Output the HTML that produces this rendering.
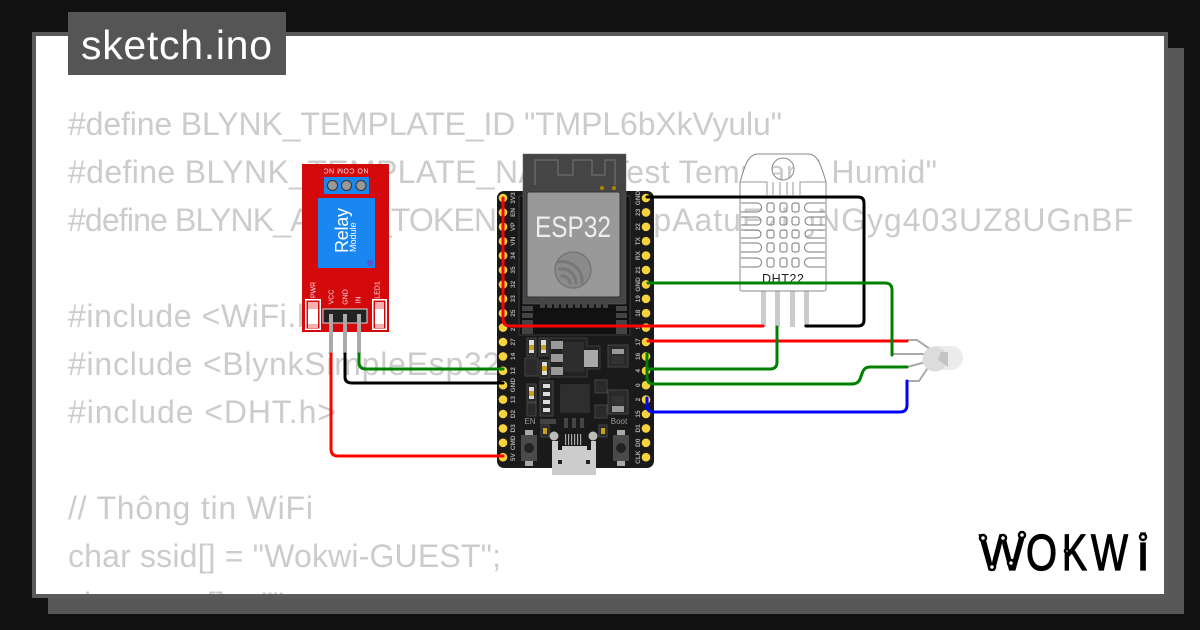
<!DOCTYPE html>
<html><head><meta charset="utf-8"><style>
html,body{margin:0;padding:0;background:#111;width:1200px;height:630px;overflow:hidden}
svg{display:block}
.c{font-family:"Liberation Sans",sans-serif;font-size:32px;fill:#ccc}
.p{font-family:"Liberation Sans",sans-serif;font-size:6.5px;font-weight:bold;fill:#aaa;text-anchor:middle}
.r{font-family:"Liberation Sans",sans-serif;font-size:7px;fill:#fde;text-anchor:middle}
.w{fill:none;stroke-width:3;stroke-linecap:round;stroke-linejoin:round}
.l{font-family:"Liberation Sans",sans-serif;font-size:51px;fill:#000;stroke:#000;stroke-width:1.200}
</style></head><body>
<svg width="1200" height="630" viewBox="0 0 1200 630" xmlns="http://www.w3.org/2000/svg">
<defs>
<clipPath id="cl"><rect x="36" y="36" width="1128" height="558"/></clipPath>
<mask id="dm" maskUnits="userSpaceOnUse" x="730" y="145" width="110" height="160">
<rect x="730" y="145" width="110" height="160" fill="#fff"/>
<g fill="#000">
<circle cx="783" cy="169" r="11"/>
<path d="M741 203h16a4.500 4.500 0 0 1 0 9h-16zM741 217h16a4 4 0 0 1 0 8h-16zM741 230h16a4 4 0 0 1 0 8h-16zM741 243h16a4.500 4.500 0 0 1 0 9h-16zM741 258h16a4.500 4.500 0 0 1 0 9h-16z"/>
<path d="M825 203h-16a4.500 4.500 0 0 0 0 9h16zM825 217h-16a4 4 0 0 0 0 8h16zM825 230h-16a4 4 0 0 0 0 8h16zM825 243h-16a4.500 4.500 0 0 0 0 9h16zM825 258h-16a4.500 4.500 0 0 0 0 9h16z"/>
<rect x="767" y="203" width="7" height="9" rx="2"/><rect x="780" y="203" width="7" height="9" rx="2"/><rect x="792" y="203" width="7" height="9" rx="2"/>
<rect x="767" y="217" width="7" height="8" rx="2"/><rect x="780" y="217" width="7" height="8" rx="2"/><rect x="792" y="217" width="7" height="8" rx="2"/>
<rect x="767" y="230" width="7" height="8" rx="2"/><rect x="780" y="230" width="7" height="8" rx="2"/><rect x="792" y="230" width="7" height="8" rx="2"/>
<rect x="767" y="243" width="7" height="9" rx="2"/><rect x="780" y="243" width="7" height="9" rx="2"/><rect x="792" y="243" width="7" height="9" rx="2"/>
<rect x="767" y="258" width="7" height="9" rx="2"/><rect x="780" y="258" width="7" height="9" rx="2"/><rect x="792" y="258" width="7" height="9" rx="2"/>
</g></mask>
</defs>
<rect width="1200" height="630" fill="#111"/>
<rect x="48" y="48" width="1136" height="566" fill="#585858"/>
<rect x="32" y="32" width="1136" height="566" fill="#5a5a5a"/>
<rect x="36" y="36" width="1128" height="558" fill="#fff"/>
<g clip-path="url(#cl)">
<text class="c" x="68" y="135" textLength="714">#define BLYNK_TEMPLATE_ID "TMPL6bXkVyulu"</text>
<text class="c" x="68" y="183" textLength="869">#define BLYNK_TEMPLATE_NAME "Test Temp and Humid"</text>
<text class="c" x="68" y="231" textLength="429">#define BLYNK_AUTH_TOKEN</text>
<text class="c" x="508" y="231" textLength="625">"wSqrbkTpAatuEzkgNGyg403UZ8UGnBF</text>
<text class="c" x="68" y="327" textLength="266">#include &lt;WiFi.h&gt;</text>
<text class="c" x="68" y="375" textLength="480">#include &lt;BlynkSimpleEsp32.h&gt;</text>
<text class="c" x="68" y="423" textLength="268">#include &lt;DHT.h&gt;</text>
<text class="c" x="68" y="519" textLength="245">// Thông tin WiFi</text>
<text class="c" x="68" y="567" textLength="433">char ssid[] = "Wokwi-GUEST";</text>
<text class="c" x="68" y="615" textLength="225">char pass[] = "";</text>
</g>
<rect x="68" y="12" width="218" height="63" fill="#555"/>
<text x="81" y="59" font-family="Liberation Sans,sans-serif" font-size="41" fill="#fff" textLength="191">sketch.ino</text>

<!-- Relay -->
<rect x="302" y="164" width="87" height="168" fill="#d40a0a"/>
<rect x="324" y="177" width="45" height="17" fill="#1a87f0"/>
<circle cx="332.500" cy="185.500" r="5" fill="#999" stroke="#333"/><circle cx="346.500" cy="185.500" r="5" fill="#999" stroke="#333"/><circle cx="361" cy="185.500" r="5" fill="#999" stroke="#333"/>
<text class="r" transform="translate(346,168.500) rotate(180)" textLength="45">NO COM NC</text>
<rect x="318" y="198" width="57" height="70" fill="#1a87f0"/>
<circle cx="370" cy="263" r="3" fill="#5555cc"/>
<text transform="translate(348,253) rotate(-90)" font-family="Liberation Sans,sans-serif" font-size="18" fill="#fff" textLength="45">Relay</text>
<text transform="translate(356,252) rotate(-90)" font-family="Liberation Sans,sans-serif" font-size="9" fill="#fff">Module</text>
<text class="r" transform="translate(315.500,290) rotate(-90)">PWR</text>
<text class="r" transform="translate(333.500,297) rotate(-90)">VCC</text>
<text class="r" transform="translate(347.500,297) rotate(-90)">GND</text>
<text class="r" transform="translate(360.500,300) rotate(-90)">IN</text>
<text class="r" transform="translate(379.500,290) rotate(-90)">LED1</text>
<g fill="#fff"><rect x="305" y="299" width="16" height="1.500"/><rect x="305" y="328.500" width="16" height="1.500"/><rect x="305" y="299" width="1.500" height="31"/><rect x="319.500" y="299" width="1.500" height="31"/><rect x="308" y="309" width="10" height="15"/>
<rect x="372" y="299" width="15" height="1.500"/><rect x="372" y="328.500" width="15" height="1.500"/><rect x="372" y="299" width="1.500" height="31"/><rect x="385.500" y="299" width="1.500" height="31"/><rect x="375" y="309" width="9" height="15"/></g>
<g fill="#f4b0b0"><rect x="308" y="302" width="10" height="7"/><rect x="308" y="324" width="10" height="4"/><rect x="375" y="302" width="9" height="7"/><rect x="375" y="324" width="9" height="4"/></g>
<rect x="323" y="309" width="44" height="14" fill="#222" stroke="#ddd" stroke-width="1"/>
<g fill="#aaa"><rect x="329" y="314" width="4" height="40"/><rect x="343" y="314" width="4" height="40"/><rect x="357" y="314" width="4" height="40"/></g>

<!-- ESP32 board -->
<rect x="497" y="191" width="157" height="277" rx="7" fill="#1a1a1a"/>
<rect x="519" y="196" width="111" height="139" fill="#111" stroke="#3a3a3a"/>
<rect x="523" y="154" width="103" height="150" fill="#454545" stroke="#666" stroke-width="0.500"/>
<path d="M535 185V160H558V175H573V160H592V175H605V160H615V185" fill="none" stroke="#666" stroke-width="1.500"/>
<circle cx="602" cy="188" r="2" fill="#a88a00"/><circle cx="614" cy="188" r="2" fill="#a88a00"/>
<rect x="527" y="192" width="93" height="105" rx="2" fill="#999" stroke="#333"/>
<text x="535" y="237" font-family="Liberation Sans,sans-serif" font-size="30" fill="#eee" textLength="76" lengthAdjust="spacingAndGlyphs">ESP32</text>
<g fill="none" stroke="#777" stroke-linecap="round"><circle cx="573" cy="270" r="18" stroke-width="1.500" fill="#8a8a8a"/><path d="M558 262A20 20 0 0 1 582 283" stroke-width="3"/><path d="M560 269A14 14 0 0 1 576 283" stroke-width="3"/><path d="M562 276A8 8 0 0 1 570 283" stroke-width="3"/></g>
<g fill="#444"><rect x="540" y="303" width="5" height="5"/><rect x="547" y="303" width="5" height="5"/><rect x="554" y="303" width="5" height="5"/><rect x="561" y="303" width="5" height="5"/><rect x="568" y="303" width="5" height="5"/><rect x="575" y="303" width="5" height="5"/><rect x="582" y="303" width="5" height="5"/><rect x="589" y="303" width="5" height="5"/><rect x="596" y="303" width="5" height="5"/><rect x="603" y="303" width="5" height="5"/>
<rect x="522" y="306" width="11" height="5"/><rect x="522" y="313" width="11" height="5"/><rect x="522" y="320" width="11" height="5"/><rect x="522" y="327" width="11" height="7"/>
<rect x="616" y="306" width="11" height="5"/><rect x="616" y="313" width="11" height="5"/><rect x="616" y="320" width="11" height="5"/><rect x="616" y="327" width="11" height="7"/></g>
<!-- pins -->
<g fill="#f8d33c">
<circle cx="503" cy="198" r="4.300"/><circle cx="503" cy="212.400" r="4.300"/><circle cx="503" cy="226.800" r="4.300"/><circle cx="503" cy="241.200" r="4.300"/><circle cx="503" cy="255.600" r="4.300"/><circle cx="503" cy="270" r="4.300"/><circle cx="503" cy="284.400" r="4.300"/><circle cx="503" cy="298.800" r="4.300"/><circle cx="503" cy="313.200" r="4.300"/><circle cx="503" cy="327.600" r="4.300"/><circle cx="503" cy="342" r="4.300"/><circle cx="503" cy="356.400" r="4.300"/><circle cx="503" cy="370.800" r="4.300"/><circle cx="503" cy="385.200" r="4.300"/><circle cx="503" cy="399.600" r="4.300"/><circle cx="503" cy="414" r="4.300"/><circle cx="503" cy="428.400" r="4.300"/><circle cx="503" cy="442.800" r="4.300"/><circle cx="503" cy="457.200" r="4.300"/>
<circle cx="646" cy="198" r="4.300"/><circle cx="646" cy="212.400" r="4.300"/><circle cx="646" cy="226.800" r="4.300"/><circle cx="646" cy="241.200" r="4.300"/><circle cx="646" cy="255.600" r="4.300"/><circle cx="646" cy="270" r="4.300"/><circle cx="646" cy="284.400" r="4.300"/><circle cx="646" cy="298.800" r="4.300"/><circle cx="646" cy="313.200" r="4.300"/><circle cx="646" cy="327.600" r="4.300"/><circle cx="646" cy="342" r="4.300"/><circle cx="646" cy="356.400" r="4.300"/><circle cx="646" cy="370.800" r="4.300"/><circle cx="646" cy="385.200" r="4.300"/><circle cx="646" cy="399.600" r="4.300"/><circle cx="646" cy="414" r="4.300"/><circle cx="646" cy="428.400" r="4.300"/><circle cx="646" cy="442.800" r="4.300"/><circle cx="646" cy="457.200" r="4.300"/>
</g>
<g>
<text class="p" transform="translate(515,198) rotate(-90)">3V3</text><text class="p" transform="translate(515,212.400) rotate(-90)">EN</text><text class="p" transform="translate(515,226.800) rotate(-90)">VP</text><text class="p" transform="translate(515,241.200) rotate(-90)">VN</text><text class="p" transform="translate(515,255.600) rotate(-90)">34</text><text class="p" transform="translate(515,270) rotate(-90)">35</text><text class="p" transform="translate(515,284.400) rotate(-90)">32</text><text class="p" transform="translate(515,298.800) rotate(-90)">33</text><text class="p" transform="translate(515,313.200) rotate(-90)">25</text><text class="p" transform="translate(515,327.600) rotate(-90)">26</text><text class="p" transform="translate(515,342) rotate(-90)">27</text><text class="p" transform="translate(515,356.400) rotate(-90)">14</text><text class="p" transform="translate(515,370.800) rotate(-90)">12</text><text class="p" transform="translate(515,385.200) rotate(-90)">GND</text><text class="p" transform="translate(515,399.600) rotate(-90)">13</text><text class="p" transform="translate(515,414) rotate(-90)">D2</text><text class="p" transform="translate(515,428.400) rotate(-90)">D3</text><text class="p" transform="translate(515,442.800) rotate(-90)">CMD</text><text class="p" transform="translate(515,457.200) rotate(-90)">5V</text>
<text class="p" transform="translate(640,198) rotate(-90)">GND</text><text class="p" transform="translate(640,212.400) rotate(-90)">23</text><text class="p" transform="translate(640,226.800) rotate(-90)">22</text><text class="p" transform="translate(640,241.200) rotate(-90)">TX</text><text class="p" transform="translate(640,255.600) rotate(-90)">RX</text><text class="p" transform="translate(640,270) rotate(-90)">21</text><text class="p" transform="translate(640,284.400) rotate(-90)">GND</text><text class="p" transform="translate(640,298.800) rotate(-90)">19</text><text class="p" transform="translate(640,313.200) rotate(-90)">18</text><text class="p" transform="translate(640,327.600) rotate(-90)">5</text><text class="p" transform="translate(640,342) rotate(-90)">17</text><text class="p" transform="translate(640,356.400) rotate(-90)">16</text><text class="p" transform="translate(640,370.800) rotate(-90)">4</text><text class="p" transform="translate(640,385.200) rotate(-90)">0</text><text class="p" transform="translate(640,399.600) rotate(-90)">2</text><text class="p" transform="translate(640,414) rotate(-90)">15</text><text class="p" transform="translate(640,428.400) rotate(-90)">D1</text><text class="p" transform="translate(640,442.800) rotate(-90)">D0</text><text class="p" transform="translate(640,457.200) rotate(-90)">CLK</text>
</g>
<!-- regulator + small parts -->
<path d="M550 338H587V346H600V369H587V377H550Z" fill="#222" stroke="#3c3c3c"/>
<rect x="562" y="342" width="22" height="30" fill="#2d2d2d"/>
<rect x="551" y="341" width="12" height="8" fill="#999"/><rect x="551" y="354" width="12" height="8" fill="#999"/><rect x="551" y="367" width="12" height="8" fill="#999"/>
<rect x="584" y="350" width="14" height="17" fill="#aaa"/>
<g fill="#2a2a2a" stroke="#444"><rect x="527" y="338" width="9" height="18"/><rect x="539" y="338" width="9" height="18"/><rect x="525" y="358" width="13" height="18"/><rect x="540" y="360" width="9" height="18"/><rect x="527" y="384" width="9" height="18"/><rect x="527" y="403" width="9" height="13"/><rect x="540" y="381" width="13" height="35"/><rect x="608" y="345" width="20" height="22"/><rect x="595" y="380" width="12" height="13"/><rect x="595" y="405" width="12" height="13"/><rect x="608" y="390" width="20" height="24"/><rect x="541" y="425" width="8" height="12"/><rect x="599" y="425" width="8" height="12"/></g>
<g fill="#ddd"><rect x="529" y="340" width="5" height="13"/><rect x="541" y="340" width="5" height="13"/><rect x="542" y="362" width="5" height="13"/><rect x="529" y="387" width="5" height="12"/><rect x="543" y="384" width="7" height="4"/><rect x="543" y="392" width="7" height="4"/><rect x="543" y="400" width="7" height="4"/><rect x="543" y="408" width="7" height="4"/></g>
<g fill="#c9a020"><rect x="529" y="345" width="5" height="5"/><rect x="541" y="345" width="5" height="5"/><rect x="542" y="366" width="5" height="5"/><rect x="529" y="391" width="5" height="5"/><rect x="543" y="428" width="4" height="6"/><rect x="601" y="428" width="4" height="6"/></g>
<rect x="612" y="349" width="12" height="5" fill="#999"/><rect x="612" y="356" width="12" height="8" fill="#333"/>
<rect x="612" y="406" width="12" height="6" fill="#999"/><rect x="612" y="396" width="12" height="9" fill="#333"/>
<rect x="560" y="384" width="30" height="29" rx="2" fill="#2e2e2e"/>
<rect x="540" y="419" width="16" height="5" fill="#444"/>
<g fill="#444"><rect x="564" y="418" width="4" height="10"/><rect x="572" y="418" width="4" height="10"/><rect x="580" y="418" width="4" height="10"/></g>
<g fill="#aaa"><rect x="565" y="434" width="1.200" height="11"/><rect x="568" y="434" width="1.200" height="11"/><rect x="571" y="434" width="1.200" height="11"/><rect x="574" y="434" width="1.200" height="11"/><rect x="577" y="434" width="1.200" height="11"/><rect x="580" y="434" width="1.200" height="11"/></g>
<path d="M552 475V441H558V450H562V446H587V450H591V441H596V475Z" fill="#ccc"/>
<circle cx="554" cy="436" r="4.500" fill="#bbb"/><circle cx="593" cy="436" r="4.500" fill="#bbb"/>
<rect x="558" y="460" width="4" height="4" fill="#222"/><rect x="586" y="460" width="4" height="4" fill="#222"/>
<text x="530" y="424" font-family="Liberation Sans,sans-serif" font-size="8" fill="#999" text-anchor="middle">EN</text>
<text x="619" y="424" font-family="Liberation Sans,sans-serif" font-size="8" fill="#999" text-anchor="middle">Boot</text>
<rect x="525" y="430" width="8" height="6" fill="#aaa"/><rect x="525" y="460" width="8" height="6" fill="#aaa"/><rect x="521" y="435" width="16" height="26" fill="#4a4a4a"/><circle cx="529" cy="448" r="5" fill="#222"/>
<rect x="617" y="430" width="8" height="6" fill="#aaa"/><rect x="617" y="460" width="8" height="6" fill="#aaa"/><rect x="613" y="435" width="16" height="26" fill="#4a4a4a"/><circle cx="621" cy="448" r="5" fill="#222"/>

<!-- DHT22 -->
<g fill="#ccc"><rect x="761" y="291" width="5" height="36"/><rect x="775" y="291" width="5" height="36"/><rect x="790" y="291" width="5" height="36"/><rect x="804" y="291" width="5" height="36"/></g>
<path d="M740 182C745 165 748 155 757 154H809C818 155 821 165 826 182V289a2 2 0 0 1-2 2H742a2 2 0 0 1-2-2Z" fill="#fff" mask="url(#dm)"/>
<path d="M740 182C745 165 748 155 757 154H809C818 155 821 165 826 182V289a2 2 0 0 1-2 2H742a2 2 0 0 1-2-2Z" fill="none" stroke="#888" stroke-width="1"/>
<circle cx="783" cy="169" r="11" fill="none" stroke="#888"/>
<path d="M740 182H767V195M773 182V195M780 182V195M787 182V195M793 182V195M800 195V182H826" fill="none" stroke="#999" stroke-width="1"/>
<g fill="none" stroke="#777" stroke-width="1">
<path d="M741 203h16a4.500 4.500 0 0 1 0 9h-16M741 217h16a4 4 0 0 1 0 8h-16M741 230h16a4 4 0 0 1 0 8h-16M741 243h16a4.500 4.500 0 0 1 0 9h-16M741 258h16a4.500 4.500 0 0 1 0 9h-16"/>
<path d="M825 203h-16a4.500 4.500 0 0 0 0 9h16M825 217h-16a4 4 0 0 0 0 8h16M825 230h-16a4 4 0 0 0 0 8h16M825 243h-16a4.500 4.500 0 0 0 0 9h16M825 258h-16a4.500 4.500 0 0 0 0 9h16"/>
<rect x="767" y="203" width="7" height="9" rx="2"/><rect x="780" y="203" width="7" height="9" rx="2"/><rect x="792" y="203" width="7" height="9" rx="2"/>
<rect x="767" y="217" width="7" height="8" rx="2"/><rect x="780" y="217" width="7" height="8" rx="2"/><rect x="792" y="217" width="7" height="8" rx="2"/>
<rect x="767" y="230" width="7" height="8" rx="2"/><rect x="780" y="230" width="7" height="8" rx="2"/><rect x="792" y="230" width="7" height="8" rx="2"/>
<rect x="767" y="243" width="7" height="9" rx="2"/><rect x="780" y="243" width="7" height="9" rx="2"/><rect x="792" y="243" width="7" height="9" rx="2"/>
<rect x="767" y="258" width="7" height="9" rx="2"/><rect x="780" y="258" width="7" height="9" rx="2"/><rect x="792" y="258" width="7" height="9" rx="2"/>
</g>
<text x="762" y="283" font-family="Liberation Sans,sans-serif" font-size="12.500" fill="#222" textLength="42">DHT22</text>

<!-- LED -->
<g fill="none" stroke="#aaa" stroke-width="2"><path d="M907 340H917L930 349"/><path d="M892 354H926"/><path d="M907 367L926 362"/><path d="M907 381H919L929 366"/></g>
<rect x="925" y="346" width="38" height="24" rx="12" fill="#ececec"/>
<circle cx="935" cy="359" r="12.500" fill="#dcdcdc"/>
<path d="M941 352H948V367L938 360Z" fill="#c4c4c4"/>

<!-- wires -->
<g class="w">
<path class="w" stroke="#000" d="M647 197H858Q864 197 864 203V320Q864 326 858 326H806"/>
<path class="w" stroke="#f00" d="M503 198V319Q503 326 510 326H763"/>
<path class="w" stroke="#f00" d="M648 341H907"/>
<path class="w" stroke="#008000" d="M648 283H885Q892 283 892 290V355"/>
<path class="w" stroke="#008000" d="M777 327V362Q777 369 770 369H648"/>
<path class="w" stroke="#008000" d="M647 354V377Q647 384 654 384H852C865 384 858 367 870 367H907"/>
<path class="w" stroke="#00f" d="M647 398V406Q647 412 654 412H900Q907 412 907 405V381"/>
<path class="w" stroke="#008000" d="M359 354V362Q359 369 366 369H503"/>
<path class="w" stroke="#000" d="M345 354V377Q345 383 352 383H503"/>
<path class="w" stroke="#f00" d="M331 354V449Q331 456 338 456H503"/>
</g>

<!-- Logo -->
<text class="l" x="979" y="570" textLength="46" lengthAdjust="spacingAndGlyphs">W</text>
<text class="l" x="1026" y="570" textLength="31" lengthAdjust="spacingAndGlyphs">O</text>
<text class="l" x="1062" y="570" textLength="25" lengthAdjust="spacingAndGlyphs">K</text>
<text class="l" x="1091" y="570" textLength="37" lengthAdjust="spacingAndGlyphs">W</text>
<text class="l" x="1143" y="570" text-anchor="middle">i</text>
<g fill="#fff" stroke="#000" stroke-width="2.500"><circle cx="983" cy="538" r="3"/><circle cx="1003" cy="538" r="3"/><circle cx="1022" cy="535" r="3"/><circle cx="992" cy="567" r="3"/><circle cx="1011" cy="563" r="3"/><circle cx="1067" cy="551" r="2"/><circle cx="1143" cy="537" r="3"/></g>
</svg>
</body></html>
